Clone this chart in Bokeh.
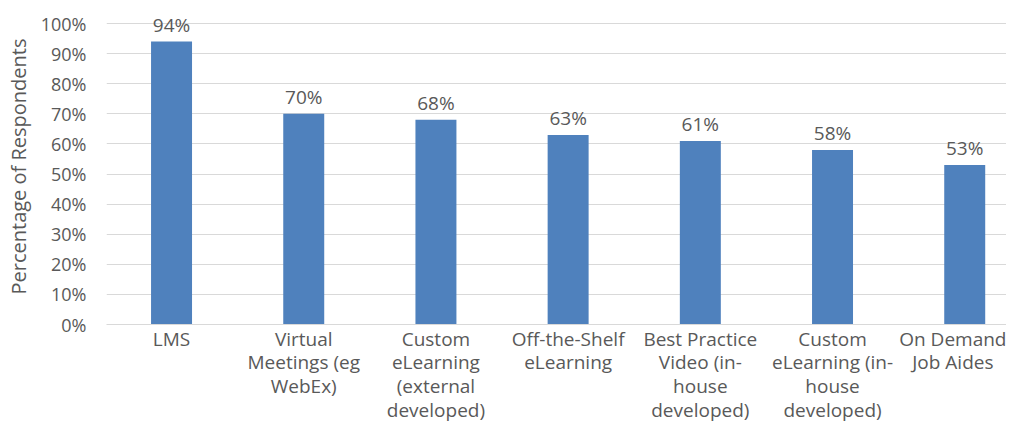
from bokeh.plotting import figure
from bokeh.models import Range1d, FixedTicker, NumeralTickFormatter, ColumnDataSource
from bokeh.core.properties import value
from bokeh.embed import file_html
from bokeh.resources import INLINE

categories = ["LMS", "Virtual\nMeetings (eg\nWebEx)", "Custom\neLearning\n(external\ndeveloped)",
              "Off-the-Shelf\neLearning", "Best Practice\nVideo (in-\nhouse\ndeveloped)",
              "Custom\neLearning (in-\nhouse\ndeveloped)", "On Demand\nJob Aides"]
percent_values = [94, 70, 68, 63, 61, 58, 53]
y_ticks = [0, 0.1, 0.2, 0.3, 0.4, 0.5, 0.6, 0.7, 0.8, 0.9, 1.0]

FONT = "Open Sans"
TXT = "#595959"
GRID = "#D9D9D9"
BAR = "#4F81BD"

xs = list(range(len(categories)))
ys = [v / 100 for v in percent_values]
labels = [f"{v}%" for v in percent_values]
src = ColumnDataSource(dict(x=xs, y=ys, label=labels))

p = figure(width=1006, height=426, output_backend="svg", toolbar_location=None,
           x_range=Range1d(-0.492, 6.316), y_range=Range1d(0, 1.05),
           min_border_left=106, min_border_right=0, min_border_top=8, min_border_bottom=102)
p.outline_line_color = None
p.background_fill_color = "white"

p.vbar(x="x", top="y", width=0.31, bottom=0, source=src, fill_color=BAR, line_color=None)
p.text(x="x", y="y", text="label", source=src, text_align="center", text_baseline="alphabetic",
       y_offset=-17, text_font=value(FONT), text_font_size="19px", text_color=TXT)

p.xgrid.grid_line_color = None
p.ygrid.grid_line_color = GRID
p.ygrid.ticker = FixedTicker(ticks=y_ticks)

ya = p.yaxis[0]
ya.ticker = FixedTicker(ticks=y_ticks)
ya.formatter = NumeralTickFormatter(format="0%")
ya.axis_line_color = None
ya.major_tick_line_color = None
ya.minor_tick_line_color = None
ya.major_tick_out = 0
ya.major_label_standoff = 20
ya.major_label_text_font = FONT
ya.major_label_text_font_size = "18px"
ya.major_label_text_color = TXT
ya.axis_label = "Percentage of Respondents"
ya.axis_label_text_font = FONT
ya.axis_label_text_font_size = "20px"
ya.axis_label_text_font_style = "normal"
ya.axis_label_text_color = TXT
ya.axis_label_standoff = 6

xa = p.xaxis[0]
xa.ticker = FixedTicker(ticks=xs)
xa.major_label_overrides = {i: c for i, c in zip(xs, categories)}
xa.axis_line_color = GRID
xa.major_tick_line_color = None
xa.minor_tick_line_color = None
xa.major_tick_out = 0
xa.major_tick_in = 0
xa.major_label_standoff = 1
xa.major_label_text_font = FONT
xa.major_label_text_font_size = "19px"
xa.major_label_text_color = TXT
xa.major_label_text_line_height = 0.92

open("out.html", "w").write(file_html(p, INLINE))
